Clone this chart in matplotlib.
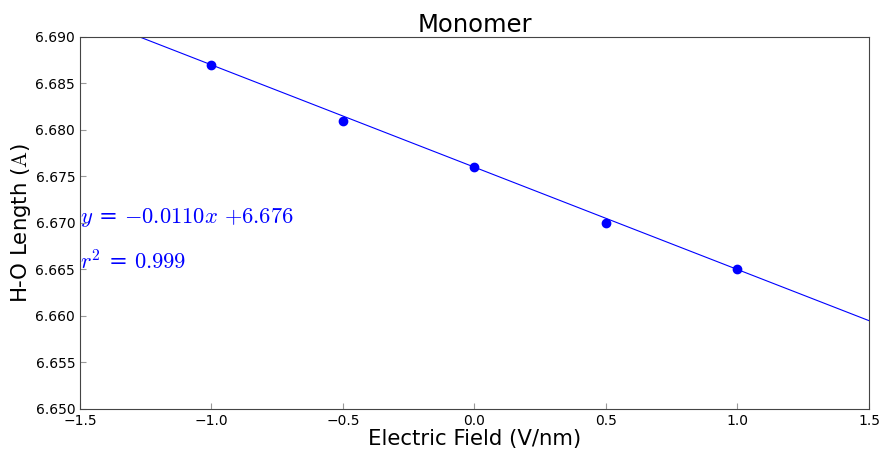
import numpy as np
import matplotlib
matplotlib.use('Agg')
import matplotlib.pyplot as plt

plt.rcParams['mathtext.fontset'] = 'cm'

# Data
field = [-1.0, -0.5, 0.0, 0.5, 1.0]
length = [6.687, 6.681, 6.676, 6.670, 6.665]
slope = -0.0110
intercept = 6.676

fig = plt.figure(figsize=(8.83, 4.49), dpi=100)
ax = fig.add_axes([0.0906, 0.0891, 0.8935, 0.8285])

xs = np.array([-1.5, 1.5])
ax.plot(xs, slope * xs + intercept, color='blue', lw=0.8)
ax.plot(field, length, 'o', color='blue', markersize=6)

ax.text(-1.5, 6.670, r'$y$ = $-0.0110x$ $+6.676$', color='blue', fontsize=16.2)
ax.text(-1.5, 6.665, r'$r^2$ = $0.999$', color='blue', fontsize=16.2)

ax.set_xlim(-1.5, 1.5)
ax.set_ylim(6.650, 6.690)
ax.set_xticks(np.arange(-1.5, 1.51, 0.5))
ax.set_yticks(np.arange(6.650, 6.6901, 0.005))
ax.set_yticklabels(['%.3f' % v for v in np.arange(6.650, 6.6901, 0.005)])
ax.tick_params(direction='in', length=4, labelsize=10, color='#999999')
for s in ax.spines.values():
    s.set_color('#444444')

ax.set_title('Monomer', fontsize=17.5, pad=-1)
ax.set_xlabel('Electric Field (V/nm)', fontsize=15.3, labelpad=1)
ax.set_ylabel(r'H-O Length ($\mathrm{A}$)', fontsize=15.3, labelpad=2)

fig.savefig('out.png', dpi=100)
